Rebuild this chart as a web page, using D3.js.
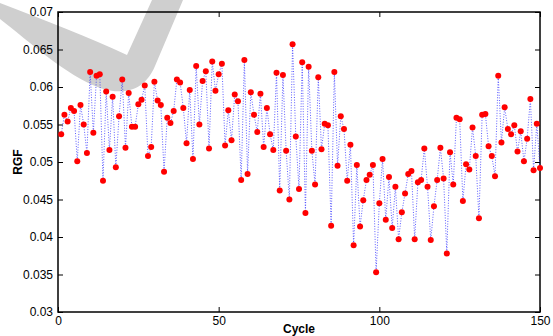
<!DOCTYPE html>
<html>
<head>
<meta charset="utf-8">
<script src="https://cdn.jsdelivr.net/npm/d3@7"></script>
<style>
  body { margin: 0; background: #fff; }
  svg { display: block; font-family: "Liberation Sans", Arial, sans-serif; }
  .tick text { font-size: 12px; fill: #000; }
  .axis-label { font-size: 12px; font-weight: bold; }
</style>
</head>
<body>
<figure id="plot" style="margin:0"></figure>
<script>
// RGF measured on each cycle (cycle = index + 1)
const rgf = [
  0.0537, 0.0563, 0.0554, 0.0572, 0.0568, 0.0501, 0.0576, 0.0550, 0.0512, 0.0620,
  0.0539, 0.0615, 0.0617, 0.0475, 0.0594, 0.0516, 0.0587, 0.0493, 0.0561, 0.0610,
  0.0519, 0.0592, 0.0547, 0.0547, 0.0577, 0.0583, 0.0602, 0.0508, 0.0520, 0.0607,
  0.0582, 0.0576, 0.0487, 0.0559, 0.0552, 0.0568, 0.0610, 0.0606, 0.0572, 0.0525,
  0.0596, 0.0504, 0.0628, 0.0550, 0.0608, 0.0621, 0.0518, 0.0634, 0.0595, 0.0617,
  0.0631, 0.0522, 0.0569, 0.0529, 0.0590, 0.0581, 0.0476, 0.0636, 0.0484, 0.0593,
  0.0563, 0.0540, 0.0591, 0.0520, 0.0572, 0.0537, 0.0516, 0.0619, 0.0462, 0.0616,
  0.0515, 0.0450, 0.0657, 0.0534, 0.0464, 0.0633, 0.0432, 0.0627, 0.0515, 0.0470,
  0.0613, 0.0517, 0.0551, 0.0549, 0.0415, 0.0620, 0.0495, 0.0561, 0.0544, 0.0475,
  0.0523, 0.0389, 0.0496, 0.0414, 0.0449, 0.0476, 0.0483, 0.0496, 0.0353, 0.0445,
  0.0504, 0.0423, 0.0480, 0.0412, 0.0467, 0.0397, 0.0433, 0.0458, 0.0484, 0.0488,
  0.0397, 0.0473, 0.0476, 0.0518, 0.0467, 0.0396, 0.0441, 0.0476, 0.0519, 0.0478,
  0.0378, 0.0513, 0.0470, 0.0559, 0.0557, 0.0448, 0.0497, 0.0490, 0.0546, 0.0508,
  0.0425, 0.0563, 0.0564, 0.0521, 0.0508, 0.0481, 0.0615, 0.0526, 0.0573, 0.0544,
  0.0537, 0.0549, 0.0514, 0.0541, 0.0501, 0.0531, 0.0584, 0.0489, 0.0551, 0.0492
];
const xTicks = [0, 50, 100, 150];
const yTicks = [0.03, 0.035, 0.04, 0.045, 0.05, 0.055, 0.06, 0.065, 0.07];
const xDomain = [0, 150];
const yDomain = [0.03, 0.07];

const width = 553, height = 336;
const margin = { top: 12, right: 13, bottom: 24, left: 58 };
const w = width - margin.left - margin.right;
const h = height - margin.top - margin.bottom;

const svg = d3.select('figure#plot')
  .append('svg')
  .attr('width', width)
  .attr('height', height);

// grey watermark stroke behind the plot
svg.append('path')
  .attr('d', 'M0,3 C45,20 90,38 127,55 L152,0 L183,0 L155,66 C145,90 125,96 100,88 C65,75 30,42 0,19 Z')
  .attr('fill', '#cfcfcf');

const g = svg.append('g')
  .attr('transform', 'translate(' + margin.left + ',' + margin.top + ')');

const x = d3.scaleLinear().domain(xDomain).range([0, w]);
const y = d3.scaleLinear().domain(yDomain).range([h, 0]);

const fmt = d => String(+d.toFixed(3));

g.append('g')
  .attr('transform', 'translate(0,' + h + ')')
  .call(d3.axisBottom(x).tickValues(xTicks).tickSizeInner(-5).tickSizeOuter(0).tickPadding(4));
g.append('g')
  .call(d3.axisTop(x).tickValues(xTicks).tickSizeInner(-5).tickSizeOuter(0).tickFormat(''));
g.append('g')
  .call(d3.axisLeft(y).tickValues(yTicks).tickSizeInner(-5).tickSizeOuter(0).tickPadding(5).tickFormat(fmt));
g.append('g')
  .attr('transform', 'translate(' + w + ',0)')
  .call(d3.axisRight(y).tickValues(yTicks).tickSizeInner(-5).tickSizeOuter(0).tickFormat(''));

g.selectAll('.domain').remove();
g.selectAll('.tick line').attr('stroke', '#000');

g.append('rect')
  .attr('width', w)
  .attr('height', h)
  .attr('fill', 'none')
  .attr('stroke', '#000')
  .attr('stroke-width', 1.5);

const pts = rgf.map((v, i) => ({ cycle: i + 1, v: v }));

g.append('path')
  .datum(pts)
  .attr('fill', 'none')
  .attr('stroke', '#2a2aff')
  .attr('stroke-opacity', 0.75)
  .attr('stroke-width', 1)
  .attr('stroke-dasharray', '1,1.6')
  .attr('d', d3.line().x(d => x(d.cycle)).y(d => y(d.v)));

g.selectAll('circle.pt')
  .data(pts)
  .enter()
  .append('circle')
  .attr('class', 'pt')
  .attr('cx', d => x(d.cycle))
  .attr('cy', d => y(d.v))
  .attr('r', 3)
  .attr('fill', '#ff0000');

svg.append('text')
  .attr('class', 'axis-label')
  .attr('x', margin.left + w / 2)
  .attr('y', 333)
  .attr('text-anchor', 'middle')
  .text('Cycle');

svg.append('text')
  .attr('class', 'axis-label')
  .attr('transform', 'translate(22,' + (margin.top + h / 2) + ') rotate(-90)')
  .attr('text-anchor', 'middle')
  .text('RGF');
</script>
</body>
</html>
